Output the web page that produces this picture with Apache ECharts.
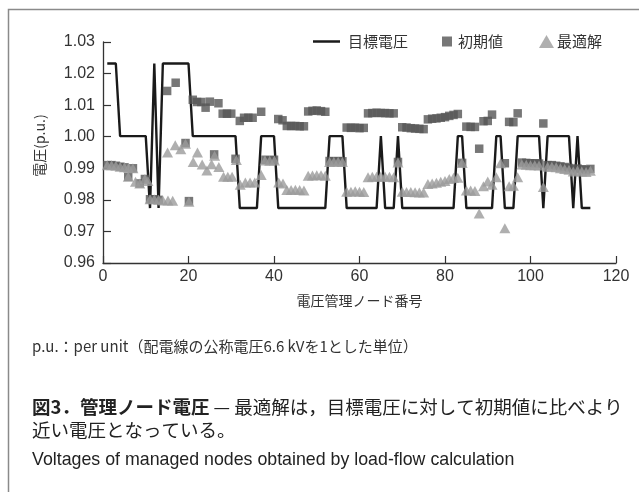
<!DOCTYPE html>
<html>
<head>
<meta charset="utf-8">
<script src="https://cdn.jsdelivr.net/npm/echarts@6/dist/echarts.min.js"></script>
<style>
html,body{margin:0;padding:0;background:#fff;}
#chart{width:639px;height:492px;}
</style>
</head>
<body>
<div id="chart"></div>
<script>
// ---- data ----
const nodeNumbers = [];
// target voltage per managed node (nodes 1..114)
const targetVoltage = [
  1.0232,1.0232,1.0232,
  1.0002,1.0002,1.0002,1.0002,1.0002,1.0002,1.0002,
  0.9774,
  1.0232,
  0.9774,
  1.0232,1.0232,1.0232,1.0232,1.0232,1.0232,1.0232,
  1.0002,1.0002,1.0002,1.0002,1.0002,1.0002,1.0002,1.0002,1.0002,1.0002,1.0002,
  0.9774,0.9774,0.9774,0.9774,0.9774,
  1.0002,1.0002,1.0002,1.0002,
  0.9774,0.9774,0.9774,0.9774,0.9774,0.9774,0.9774,0.9774,0.9774,0.9774,0.9774,0.9774,
  1.0002,1.0002,1.0002,1.0002,
  0.9774,0.9774,0.9774,0.9774,0.9774,0.9774,0.9774,0.9774,
  1.0002,
  0.9774,0.9774,0.9774,
  1.0002,
  0.9774,0.9774,0.9774,0.9774,0.9774,0.9774,0.9774,0.9774,0.9774,0.9774,0.9774,0.9774,0.9774,
  1.0002,1.0002,
  0.9774,0.9774,0.9774,0.9774,0.9774,0.9774,0.9774,
  1.0002,1.0002,
  0.9774,0.9774,0.9774,
  1.0002,1.0002,1.0002,1.0002,1.0002,1.0002,
  0.9774,
  1.0002,1.0002,1.0002,1.0002,1.0002,1.0002,
  0.9774,
  1.0002,
  0.9774,0.9774,0.9774
];
for (let i = 0; i < targetVoltage.length; i++) nodeNumbers.push(i + 1);

// initial values (squares)
const initNode = [1,2,3,4,5,5.9,7,8.6,9.8,11,12,13,15,17,19.3,20.1,
  21,22,23,24,25,26,27,28,29,30,31,32,33,34,35,37,38,39,40,41,42,43,44,45,46,47,
  48,49,50,51,52,53,54,55,56,57,58,59,60,61,62,63,64,65,66,67,68,69,
  70,71,72,73,74,75,76,77,78,79,80,81,82,83,84,85,86,87,88,89,90,91,94,95,96,97,
  98,99,100,101,102,103,104,105,106,107,108,109,110,111,112,113,114];
const initVolt = [0.9910,0.9910,0.9908,0.9905,0.9903,0.9873,0.9900,0.9852,0.9866,0.9802,0.9802,0.9800,1.0145,1.0171,0.9980,0.9796,
  1.0117,1.0110,1.0110,1.0092,1.0111,0.9944,1.0106,1.0073,1.0073,1.0073,0.9930,1.0050,1.0060,1.0060,1.0060,1.0079,0.9927,0.9925,0.9927,1.0056,1.0052,1.0034,1.0034,1.0034,1.0033,1.0033,
  1.0080,1.0082,1.0083,1.0081,1.0079,0.9923,0.9922,0.9923,0.9922,1.0029,1.0028,1.0029,1.0027,1.0028,1.0074,1.0075,1.0076,1.0075,1.0075,1.0074,1.0074,0.9920,
  1.0030,1.0029,1.0027,1.0026,1.0025,1.0024,1.0055,1.0057,1.0058,1.0060,1.0062,1.0066,1.0069,1.0072,0.9917,1.0032,1.0031,1.0031,0.9962,1.0049,1.0050,1.0070,0.9916,1.0047,1.0046,1.0074,
  0.9918,0.9917,0.9916,0.9916,0.9915,1.0042,0.9910,0.9910,0.9908,0.9906,0.9904,0.9901,0.9898,0.9899,0.9897,0.9895,0.9898];

// optimal solution (triangles)
const optNode = [1,2,3,4,5,6,7,5.9,7.6,8.6,9.8,10.5,11,12,13,14,15.2,16.3,15.1,16.9,18.2,19.3,20.1,
  21.1,22.1,23.2,24.3,25.4,26.1,27.1,28.2,29.2,30.2,31.2,32.1,33.3,34.4,35.5,37,37.9,39,40.1,41.1,42.1,
  43,44,45,46,47,48,49,50,51,52,53,54,55,56,57,58,59,60,61,62,63,64,65,66,67,68,69,
  70,71,72,73,74,75,76,77,78,79,80,81,82,83,84,85,86,87,88,89,90,91,92,93,94,95,96,97,
  98,99,100,101,102,103,104,105,106,107,108,109,110,111,112,113,114];
const optVolt = [0.9910,0.9910,0.9908,0.9905,0.9903,0.9902,0.9900,0.9873,0.9857,0.9852,0.9866,0.9860,0.9802,0.9802,0.9800,0.9798,0.9798,0.9797,0.9950,0.9973,0.9960,0.9978,0.9794,
  0.9920,0.9950,0.9912,0.9893,0.9913,0.9940,0.9904,0.9873,0.9873,0.9873,0.9926,0.9848,0.9855,0.9855,0.9855,0.9879,0.9925,0.9924,0.9925,0.9855,0.9852,
  0.9831,0.9831,0.9832,0.9831,0.9830,0.9876,0.9877,0.9878,0.9878,0.9876,0.9920,0.9921,0.9921,0.9920,0.9826,0.9826,0.9827,0.9826,0.9825,0.9872,0.9873,0.9873,0.9874,0.9873,0.9873,0.9872,0.9918,
  0.9826,0.9825,0.9825,0.9824,0.9823,0.9823,0.9850,0.9852,0.9854,0.9857,0.9860,0.9866,0.9870,0.9870,0.9917,0.9830,0.9830,0.9828,0.9757,0.9843,0.9858,0.9848,0.9872,0.9916,0.9710,0.9843,0.9845,0.9872,
  0.9912,0.9911,0.9910,0.9910,0.9909,0.9841,0.9905,0.9905,0.9903,0.9900,0.9898,0.9895,0.9890,0.9893,0.9890,0.9888,0.9892];

const seriesNames = ['目標電圧', '初期値', '最適解'];
const xTicks = [0, 20, 40, 60, 80, 100, 120];
const yTicks = [0.96, 0.97, 0.98, 0.99, 1.00, 1.01, 1.02, 1.03];
const xAxisTitle = '電圧管理ノード番号';
const yAxisTitle = '電圧(p.u.)';
const noteText = 'p.u.：per unit（配電線の公称電圧6.6 kVを1とした単位）';
const captionBold = '図3．管理ノード電圧';
const captionRest = ' — 最適解は，目標電圧に対して初期値に比べより';
const captionLine2 = '近い電圧となっている。';
const captionEn = 'Voltages of managed nodes obtained by load-flow calculation';

// ---- chart ----
const zip = (xs, ys) => xs.map((x, i) => [x, ys[i]]);
const FONT = '"Liberation Sans", "Noto Sans CJK JP", sans-serif';
const JP = '"Noto Sans CJK JP", "Liberation Sans", sans-serif';
const TXT = '#333';

const chart = echarts.init(document.getElementById('chart'), null, {renderer: 'canvas'});
chart.setOption({
  animation: false,
  backgroundColor: '#fff',
  textStyle: {fontFamily: FONT},
  grid: {left: 103, right: 23, top: 42, bottom: 229},
  legend: [
    {data: [{name: seriesNames[0], icon: 'rect'}], left: 313, top: 34, padding: 0, itemWidth: 27, itemHeight: 2.5, itemGap: 0,
     textStyle: {fontSize: 15, color: TXT, fontFamily: JP, padding: [0,0,0,3]}},
    {data: [{name: seriesNames[1], icon: 'rect'}], left: 442, top: 34, padding: 0, itemWidth: 10, itemHeight: 10, itemGap: 0,
     textStyle: {fontSize: 15, color: TXT, fontFamily: JP, padding: [0,0,0,1]}},
    {data: [{name: seriesNames[2], icon: 'triangle'}], left: 539, top: 34, padding: 0, itemWidth: 15, itemHeight: 13, itemGap: 0,
     textStyle: {fontSize: 15, color: TXT, fontFamily: JP, padding: [0,0,0,-2]}}
  ],
  xAxis: {
    type: 'value', min: 0, max: 120, interval: 20,
    name: xAxisTitle, nameLocation: 'middle', nameGap: 31,
    nameTextStyle: {fontSize: 14, color: TXT, fontFamily: JP},
    axisLine: {lineStyle: {color: '#333', width: 1.3}},
    axisTick: {inside: true, length: 7, lineStyle: {color: '#333', width: 1.2}},
    axisLabel: {fontSize: 16, color: TXT, margin: 6},
    splitLine: {show: false}
  },
  yAxis: {
    type: 'value', min: 0.96, max: 1.03, interval: 0.01,
    name: yAxisTitle, nameLocation: 'middle', nameRotate: 90, nameGap: 56,
    nameTextStyle: {fontSize: 14, color: TXT, fontFamily: JP, padding: [0, 0, 0, 14]},
    axisLine: {show: true, lineStyle: {color: '#333', width: 1.3}},
    axisTick: {show: true, inside: true, length: 8, lineStyle: {color: '#333', width: 1.2}},
    axisLabel: {fontSize: 16, color: TXT, margin: 8,
      formatter: v => { const t = yTicks.find(k => Math.abs(k - v) < 1e-6); return (t !== undefined ? t : v).toFixed(2); }},
    splitLine: {show: false}
  },
  series: [
    {
      name: seriesNames[0], type: 'line', z: 1,
      data: zip(nodeNumbers, targetVoltage),
      symbol: 'none', itemStyle: {color: '#1a1a1a'},
      lineStyle: {color: '#1a1a1a', width: 2.4}
    },
    {
      name: seriesNames[1], type: 'scatter', z: 2,
      data: zip(initNode, initVolt),
      symbol: 'rect', symbolSize: 8.5,
      itemStyle: {color: '#555555'}
    },
    {
      name: seriesNames[2], type: 'scatter', z: 3,
      data: zip(optNode, optVolt),
      symbol: 'triangle', symbolSize: [11, 10],
      itemStyle: {color: '#9b9b9b'}
    }
  ],
  graphic: [
    {type: 'rect', silent: true, z: -1, shape: {x: 8.5, y: 9.5, width: 700, height: 600},
     style: {fill: 'none', stroke: '#8a8a8a', lineWidth: 1.5}},
    {type: 'text', left: 32, top: 339,
     style: {text: noteText, font: '15px ' + JP, fill: TXT}},
    {type: 'text', left: 32, top: 398,
     style: {text: '{b|' + captionBold + '}{n|' + captionRest + '}',
       rich: {b: {fontSize: 18.5, fontWeight: 'bold', fontFamily: JP, fill: '#222'},
              n: {fontSize: 18.5, fontFamily: JP, fill: '#222'}}}},
    {type: 'text', left: 32, top: 421,
     style: {text: captionLine2, font: '18.5px ' + JP, fill: '#222'}},
    {type: 'text', left: 32, top: 451,
     style: {text: captionEn, font: '17.8px ' + FONT, fill: '#222'}}
  ]
});
</script>
</body>
</html>
